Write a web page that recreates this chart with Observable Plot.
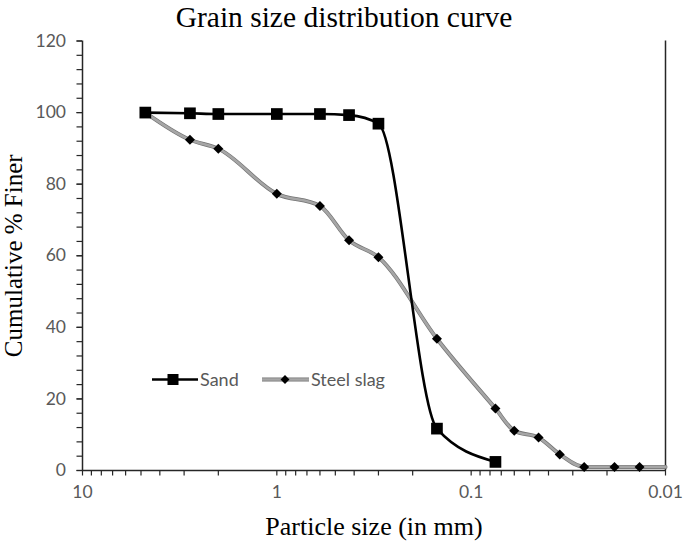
<!DOCTYPE html>
<html><head><meta charset="utf-8">
<script src="https://cdn.jsdelivr.net/npm/d3@7"></script>
<script src="https://cdn.jsdelivr.net/npm/@observablehq/plot@0.6"></script>
<style>
body{margin:0;background:#fff}
#wrap{position:relative;width:685px;height:545px}
#legend{position:absolute;left:0;top:0}
</style>
</head><body><div id="wrap"></div>
<script>
const chartTitle = "Grain size distribution curve";
const xTitle = "Particle size (in mm)";
const yTitle = "Cumulative % Finer";
const seriesNames = ["Sand", "Steel slag"];

const sizeSand  = [4.75, 2.8, 2.0, 1.0, 0.6, 0.425, 0.3, 0.15, 0.075];
const finerSand = [100, 99.8, 99.6, 99.6, 99.6, 99.3, 96.9, 11.7, 2.4];

const sizeSlag  = [4.75, 2.8, 2.0, 1.0, 0.6, 0.425, 0.3, 0.15, 0.075, 0.06, 0.045, 0.035, 0.0262, 0.0183, 0.0136, 0.01];
const finerSlag = [100, 92.4, 89.9, 77.3, 73.9, 64.3, 59.6, 36.8, 17.3, 11.1, 9.2, 4.5, 1.0, 1.0, 1.0, 1.0];
const slagMarkerCount = 15;

const yMajorTicks = [0, 20, 40, 60, 80, 100, 120];
const yMinorStep = 4;
const xMajorTicks = [10, 1, 0.1, 0.01];
const xMajorLabels = ["10", "1", "0.1", "0.01"];
const xMinorMultipliers = [2, 3, 4, 5, 6, 7, 8, 9];
const xMinorDecades = [1, 0.1, 0.01];

const sand = sizeSand.map((s, i) => ({size: s, finer: finerSand[i]}));
const slag = sizeSlag.map((s, i) => ({size: s, finer: finerSlag[i]}));
const yMinorTicks = d3.range(0, 120 + 1e-9, yMinorStep);
const xMinorTicks = xMinorDecades.flatMap(d => xMinorMultipliers.map(m => m * d));
const axisColor = "#262626";
const labelColor = "#595959";
const serif = "'Liberation Serif', 'Times New Roman', serif";

const W = 685, H = 545;
const mL = 82, mR = 20, mT = 40.5, mB = 75;

const chart = Plot.plot({
  width: W, height: H,
  marginLeft: mL, marginRight: mR, marginTop: mT, marginBottom: mB,
  style: {fontFamily: "Lato, 'Open Sans', sans-serif", fontSize: "17.5px", background: "#fff", overflow: "visible"},
  x: {type: "log", domain: [10, 0.01], axis: null},
  y: {domain: [0, 120], axis: null},
  marks: [
    Plot.ruleX([10], {stroke: axisColor, strokeWidth: 1.5}),
    Plot.ruleX([0.01], {stroke: axisColor, strokeWidth: 1.5}),
    Plot.ruleY([0], {stroke: axisColor, strokeWidth: 1.5}),
    Plot.axisY(yMinorTicks, {label: null, tickSize: 5.5, tickFormat: () => "", stroke: axisColor, strokeWidth: 1.2}),
    Plot.axisY(yMajorTicks, {label: null, tickSize: 5.5, tickPadding: 11, fill: labelColor, stroke: axisColor, strokeWidth: 1.2, fontSize: 17.5, tickFormat: d => String(d)}),
    Plot.axisX(xMinorTicks, {label: null, tickSize: 5.5, tickFormat: () => "", stroke: axisColor, strokeWidth: 1.2}),
    Plot.axisX(xMajorTicks, {label: null, tickSize: 5.5, tickPadding: 10, fill: labelColor, stroke: axisColor, strokeWidth: 1.2, fontSize: 17.5,
      tickFormat: d => xMajorLabels[xMajorTicks.indexOf(d)]}),
    Plot.line(slag, {x: "size", y: "finer", curve: "monotone-x", stroke: "#737373", strokeWidth: 4}),
    Plot.line(slag, {x: "size", y: "finer", curve: "monotone-x", stroke: "#a6a6a6", strokeWidth: 2.6}),
    Plot.dot(slag.slice(0, slagMarkerCount), {x: "size", y: "finer", symbol: "diamond2", r: 4.5, fill: "#000", stroke: "none"}),
    Plot.line(sand, {x: "size", y: "finer", curve: "monotone-x", stroke: "#000", strokeWidth: 2.6}),
    Plot.dot(sand, {x: "size", y: "finer", symbol: "square", r: 6.6, fill: "#000", stroke: "none"}),
    Plot.text([chartTitle], {frameAnchor: "top", lineAnchor: "middle", dx: -30, dy: -23, fontSize: 29.5, fontFamily: serif, fill: "#000"}),
    Plot.text([xTitle], {frameAnchor: "bottom", lineAnchor: "middle", dy: 56, fontSize: 26, fontFamily: serif, fill: "#000"}),
    Plot.text([yTitle], {frameAnchor: "left", textAnchor: "middle", lineAnchor: "middle", dx: -69, rotate: -90, fontSize: 25, fontFamily: serif, fill: "#000"})
  ]
});
const wrap = document.getElementById("wrap");
wrap.appendChild(chart);

const lg = d3.select(wrap).append("svg").attr("id", "legend").attr("width", W).attr("height", H)
  .style("pointer-events", "none");
const ly = 379.5;
const fontLegend = "18px Lato, sans-serif";
const g1 = lg.append("g");
g1.append("line").attr("x1", 152).attr("x2", 198).attr("y1", ly).attr("y2", ly).attr("stroke", "#000").attr("stroke-width", 2.6);
g1.append("rect").attr("x", 173 - 5.5).attr("y", ly - 5.5).attr("width", 11).attr("height", 11).attr("fill", "#000");
g1.append("text").attr("x", 200).attr("y", ly).attr("dy", "0.36em").attr("fill", labelColor)
  .style("font", fontLegend).text(seriesNames[0]);
const g2 = lg.append("g");
g2.append("line").attr("x1", 262).attr("x2", 309).attr("y1", ly).attr("y2", ly).attr("stroke", "#737373").attr("stroke-width", 4);
g2.append("line").attr("x1", 262).attr("x2", 309).attr("y1", ly).attr("y2", ly).attr("stroke", "#a6a6a6").attr("stroke-width", 2.6);
g2.append("path").attr("d", d3.symbol(d3.symbolDiamond2, 50)()).attr("transform", `translate(285,${ly})`).attr("fill", "#000");
g2.append("text").attr("x", 311).attr("y", ly).attr("dy", "0.36em").attr("fill", labelColor)
  .style("font", fontLegend).text(seriesNames[1]);
</script>
</body></html>
